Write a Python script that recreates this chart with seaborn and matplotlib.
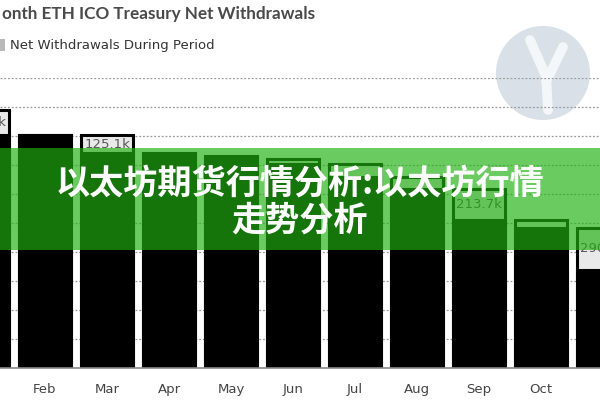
import numpy as np
import pandas as pd
import matplotlib
matplotlib.use("Agg")
import matplotlib.pyplot as plt
import seaborn as sns
from matplotlib.patches import Rectangle, Ellipse
from matplotlib.lines import Line2D

# monthly ETH ICO treasury (thousand ETH)
months = ["Jan", "Feb", "Mar", "Apr", "May", "Jun", "Jul", "Aug", "Sep", "Oct", "Nov"]
balance_end = [1607, 1607, 1482, 1462, 1441, 1407, 1317, 1234, 1021, 966, 676]
withdrawals = [172.3, 0, 125.1, 20, 21, 34, 90, 83, 213.7, 55, 290.4]

df = pd.DataFrame({"month": months, "balance": balance_end, "withdrawn": withdrawals})
df["total"] = df["balance"] + df["withdrawn"]

sns.set_style("white")
plt.rcParams["font.family"] = ["DejaVu Sans"]

W, H = 600, 400
fig = plt.figure(figsize=(6, 4), dpi=100)
fig.patch.set_facecolor("white")

# faded logo watermark behind the plot
fig.patches.append(Ellipse((543 / W, 1 - 73 / H), 94 / W, 94 / H, transform=fig.transFigure,
                           facecolor="#d9e0e8", edgecolor="none", zorder=-2))
for (x0, y0), (x1, y1) in [((530, 40), (545, 74)), ((563, 47), (546, 82)), ((546, 74), (548, 110))]:
    fig.lines.append(Line2D([x0 / W, x1 / W], [1 - y0 / H, 1 - y1 / H], transform=fig.transFigure,
                            color="#f4f7f9", lw=7, solid_capstyle="round", zorder=-1))

ax = fig.add_axes([0, (H - 368) / H, 1, 290 / H])
ax.patch.set_alpha(0)

sns.barplot(data=df, x="month", y="total", order=months, color="#e9e9e9", saturation=1,
            edgecolor="black", linewidth=2.2, width=0.83, ax=ax)
sns.barplot(data=df, x="month", y="balance", order=months, color="black", saturation=1,
            edgecolor="black", linewidth=2.2, width=0.83, ax=ax)

for i, row in df.iterrows():
    if row["withdrawn"] >= 100:
        ax.text(i, row["balance"] + row["withdrawn"] / 2, f"{row['withdrawn']:.1f}k",
                ha="center", va="center", fontsize=9.5, color="#555555", zorder=4)

ax.set_ylim(0, 2000)
ax.set_yticks(np.arange(0, 2001, 200))
ax.set_yticklabels([])
ax.yaxis.grid(True, linestyle=(0, (1.5, 1.5)), color="#9a9a9a", lw=0.9)
ax.set_axisbelow(True)
ax.set_xlim(17 / 62, 617 / 62)
ax.set_xlabel("")
ax.set_ylabel("")
for s in ["top", "left", "right"]:
    ax.spines[s].set_visible(False)
ax.spines["bottom"].set_color("#8a8a8a")
ax.spines["bottom"].set_linewidth(1.2)
ax.tick_params(axis="x", length=5, color="#8a8a8a", labelsize=9.5, labelcolor="#444444", pad=6)
ax.tick_params(axis="y", length=0)

# title and legend, cut off at the left edge like the screenshot
fig.text(2 / W, 1 - 19 / H, "onth ETH ICO Treasury Net Withdrawals", fontsize=12.3,
         fontweight="bold", family=["Lato", "DejaVu Sans"], color="#4a4a4a", va="baseline")
fig.patches.append(Rectangle((-5 / W, 1 - 51 / H), 10 / W, 12 / H, transform=fig.transFigure,
                             facecolor="#b9b9b9", edgecolor="none"))
fig.text(10 / W, 1 - 45 / H, "Net Withdrawals During Period", fontsize=9.5, color="#333333",
         va="center")

# green banner overlay
fig.patches.append(Rectangle((0, 1 - 250 / H), 1, 102 / H, transform=fig.transFigure,
                             facecolor="#20b111", alpha=0.665, edgecolor="none", zorder=5))
cjk = ["Noto Sans CJK SC", "DejaVu Sans"]
fig.text(0.5, 1 - 183 / H, "以太坊期货行情分析:以太坊行情", fontsize=24.6, fontweight="bold",
         family=cjk, color="white", ha="center", va="center", zorder=6)
fig.text(0.5, 1 - 220 / H, "走势分析", fontsize=24.6, fontweight="bold",
         family=cjk, color="white", ha="center", va="center", zorder=6)

fig.savefig("out.png", dpi=100)
